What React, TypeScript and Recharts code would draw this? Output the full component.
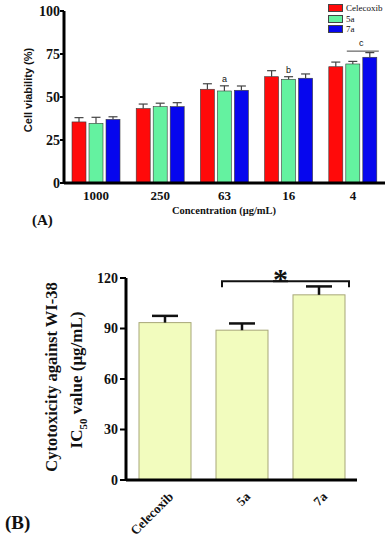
import React from "react";
import { BarChart, Bar, XAxis, YAxis } from "recharts";

// (A) cell viability by concentration
const concentrations = ["1000", "250", "63", "16", "4"];
const celecoxibViability = [35.5, 43.3, 54.5, 61.8, 67.6];
const celecoxibErr = [2.5, 2.6, 3.2, 3.5, 2.7];
const viability5a = [34.7, 44.4, 53.5, 60.3, 69.2];
const viability5aErr = [3.5, 2, 3, 1.5, 1.5];
const viability7a = [37, 44.4, 53.9, 60.9, 73.1];
const viability7aErr = [1.5, 2.3, 2.5, 2.5, 2.7];
const notes5a = ["", "", "a", "b", ""];
const notes7a = ["", "", "", "", "c"];
const viabilityTicks = [0, 25, 50, 75, 100];

// (B) IC50 against WI-38
const compounds = ["Celecoxib", "5a", "7a"];
const ic50 = [93.5, 89, 110];
const ic50Err = [4, 4, 5];
const ic50Ticks = [0, 30, 60, 90, 120];
const bracketValue = 118;

const seriesColors = { Celecoxib: "#ff0a0a", "5a": "#64f2a0", "7a": "#0606ee" };
const SERIF = "'Liberation Serif', 'DejaVu Serif', serif";
const BAR_GAP = 3;

const dataA = concentrations.map((name, i) => ({
  name,
  Celecoxib: celecoxibViability[i],
  "5a": viability5a[i],
  "7a": viability7a[i],
}));

const dataB = compounds.map((name, i) => ({ name, value: ic50[i] }));

function viabilityShape(key: string, errs: number[], notes: string[]) {
  return (props: any) => {
    const { x, y, width, height, index, payload } = props;
    const v = payload[key];
    const k = v ? height / v : 0;
    const top = y - errs[index] * k;
    const cx = x + width / 2;
    const note = notes[index];
    return (
      <g>
        <rect x={x} y={y} width={width} height={height} fill={(seriesColors as any)[key]} stroke="#3a3a3a" strokeWidth={0.6} />
        <line x1={cx} y1={y} x2={cx} y2={top} stroke="#444" strokeWidth={1.2} />
        <line x1={cx - 4.5} y1={top} x2={cx + 4.5} y2={top} stroke="#444" strokeWidth={1.2} />
        {note && key === "5a" && (
          <text x={cx} y={top - 4} textAnchor="middle" fontFamily="'Liberation Sans', sans-serif" fontSize={9} fill="#111">
            {note}
          </text>
        )}
        {note && key === "7a" && (
          <g>
            <line x1={x - BAR_GAP - width + 1} y1={top - 1.5} x2={x + width + 2} y2={top - 1.5} stroke="#444" strokeWidth={1} />
            <text x={x - BAR_GAP / 2} y={top - 7} textAnchor="middle" fontFamily="'Liberation Sans', sans-serif" fontSize={9} fill="#111">
              {note}
            </text>
          </g>
        )}
      </g>
    );
  };
}

const ic50Shape = (props: any) => {
  const { x, y, width, height, index, payload } = props;
  const k = payload.value ? height / payload.value : 0;
  const base = y + height;
  const top = y - ic50Err[index] * k;
  const cx = x + width / 2;
  const by = base - bracketValue * k;
  return (
    <g>
      <rect x={x} y={y} width={width} height={height} fill="#f2fcbe" stroke="#a7a778" strokeWidth={1} />
      <line x1={cx} y1={y} x2={cx} y2={top} stroke="#111" strokeWidth={2.5} />
      <line x1={cx - 13} y1={top} x2={cx + 13} y2={top} stroke="#111" strokeWidth={2.5} />
      {index === 1 && (
        <path d={`M${x + 6},${by + 6} V${by} H${x + width + 20}`} fill="none" stroke="#111" strokeWidth={2} />
      )}
      {index === 2 && (
        <g>
          <path d={`M${x - 20},${by} H${x + width + 4} V${by + 6}`} fill="none" stroke="#111" strokeWidth={2} />
          <text x={x - 12.5} y={by + 8} textAnchor="middle" fontFamily={SERIF} fontWeight="bold" fontSize={30} fill="#111">
            *
          </text>
        </g>
      )}
    </g>
  );
};

const abs = (style: React.CSSProperties): React.CSSProperties => ({ position: "absolute", whiteSpace: "nowrap", ...style });

export default function App() {
  return (
    <div style={{ position: "absolute", left: 0, top: 0, width: 389, height: 550, background: "#fff", fontFamily: SERIF, color: "#111" }}>
      <div style={abs({ left: 0, top: 0 })}>
        <BarChart width={389} height={235} data={dataA} margin={{ top: 11, right: 4, left: 0, bottom: 0 }} barGap={BAR_GAP} barSize={14}>
          <XAxis
            dataKey="name"
            height={52}
            tickSize={0}
            tickMargin={8}
            axisLine={{ stroke: "#000", strokeWidth: 3 }}
            tick={{ fontFamily: SERIF, fontWeight: "bold", fontSize: 13, fill: "#111" }}
          />
          <YAxis
            width={64}
            domain={[0, 100]}
            ticks={viabilityTicks}
            interval={0}
            tickSize={4}
            tickMargin={0}
            axisLine={{ stroke: "#000", strokeWidth: 3 }}
            tickLine={{ stroke: "#000", strokeWidth: 2 }}
            tick={{ fontFamily: SERIF, fontWeight: "bold", fontSize: 14, fill: "#111" }}
          />
          <Bar dataKey="Celecoxib" fill={seriesColors.Celecoxib} isAnimationActive={false} shape={viabilityShape("Celecoxib", celecoxibErr, [])} />
          <Bar dataKey="5a" fill={seriesColors["5a"]} isAnimationActive={false} shape={viabilityShape("5a", viability5aErr, notes5a)} />
          <Bar dataKey="7a" fill={seriesColors["7a"]} isAnimationActive={false} shape={viabilityShape("7a", viability7aErr, notes7a)} />
        </BarChart>
      </div>

      {/* legend A */}
      <div style={abs({ left: 328, top: 3, fontSize: 9, lineHeight: "10.5px" })}>
        {Object.entries(seriesColors).map(([name, color]) => (
          <div key={name} style={{ display: "flex", alignItems: "center" }}>
            <span style={{ display: "inline-block", width: 13, height: 6, background: color, border: "1px solid #444", marginRight: 3 }} />
            {name}
          </div>
        ))}
      </div>

      <div style={abs({ left: 28, top: 90, transform: "translate(-50%, -50%) rotate(-90deg)", fontFamily: "'Liberation Sans', sans-serif", fontWeight: "bold", fontSize: 11 })}>
        Cell viability (%)
      </div>
      <div style={abs({ left: 224, top: 210, transform: "translate(-50%, -50%)", fontWeight: "bold", fontSize: 10.5 })}>
        Concentration (μg/mL)
      </div>
      <div style={abs({ left: 32, top: 220, transform: "translateY(-50%)", fontWeight: "bold", fontSize: 15 })}>(A)</div>

      <div style={abs({ left: 0, top: 260 })}>
        <BarChart width={389} height={290} data={dataB} margin={{ top: 18, right: 32, left: 0, bottom: 0 }} barSize={52}>
          <XAxis
            dataKey="name"
            height={70}
            tickSize={0}
            tickMargin={11}
            interval={0}
            angle={-45}
            textAnchor="end"
            axisLine={{ stroke: "#000", strokeWidth: 3 }}
            tick={{ fontFamily: SERIF, fontWeight: "bold", fontSize: 13, fill: "#111", dx: 3 }}
          />
          <YAxis
            width={126}
            domain={[0, 120]}
            ticks={ic50Ticks}
            interval={0}
            tickSize={6}
            tickMargin={2}
            axisLine={{ stroke: "#000", strokeWidth: 3 }}
            tickLine={{ stroke: "#000", strokeWidth: 2 }}
            tick={{ fontFamily: SERIF, fontWeight: "bold", fontSize: 14, fill: "#111" }}
          />
          <Bar dataKey="value" fill="#f2fcbe" isAnimationActive={false} shape={ic50Shape} />
        </BarChart>
      </div>

      <div style={abs({ left: 52, top: 377, transform: "translate(-50%, -50%) rotate(-90deg)", fontWeight: "bold", fontSize: 16.5 })}>
        Cytotoxicity against WI-38
      </div>
      <div style={abs({ left: 78, top: 380, transform: "translate(-50%, -50%) rotate(-90deg)", fontWeight: "bold", fontSize: 17 })}>
        IC<sub style={{ fontSize: 11 }}>50</sub> value (μg/mL)
      </div>
      <div style={abs({ left: 5, top: 523, transform: "translateY(-50%)", fontWeight: "bold", fontSize: 19 })}>(B)</div>
    </div>
  );
}
